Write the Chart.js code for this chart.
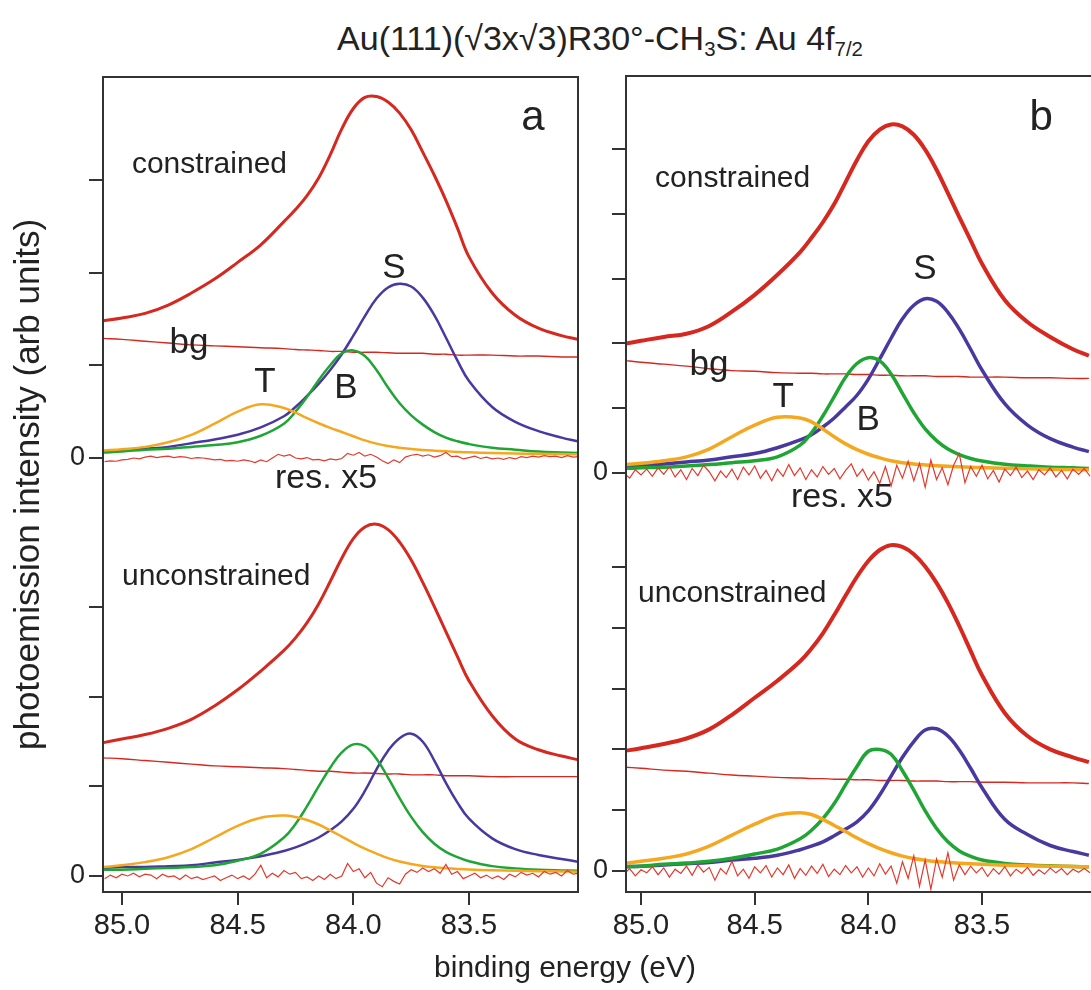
<!DOCTYPE html>
<html>
<head>
<meta charset="utf-8">
<script src="https://cdn.jsdelivr.net/npm/chart.js@4.4.0/dist/chart.umd.min.js"></script>
<style>
html, body { margin: 0; padding: 0; background: #fff; overflow: hidden; }
#wrap { position: relative; width: 1091px; height: 990px; overflow: hidden; }
canvas { position: absolute; top: 0; }
#chartA { left: 0; }
#chartB { left: 590px; }
.lbl { position: absolute; font-family: "Liberation Sans", Arial, sans-serif; color: #222; white-space: nowrap; text-align: center; }
.lbl sub { font-size: 0.6em; vertical-align: -0.3em; line-height: 0; }
#title { left: 0; width: 1200px; top: 21px; font-size: 34px; line-height: 34px; }
#xtitle { left: 0; width: 1130px; top: 952px; font-size: 30px; line-height: 30px; }
</style>
</head>
<body>
<div id="wrap">
  <div id="title" class="lbl">Au(111)(√3x√3)R30°-CH<sub>3</sub>S: Au 4f<sub>7/2</sub></div>
  <canvas id="chartA" width="590" height="990"></canvas>
  <canvas id="chartB" width="520" height="990"></canvas>
  <div id="xtitle" class="lbl">binding energy (eV)</div>
</div>
<script>
// energy grid for the fitted curves (eV)
const energy = [85.08, 85.0, 84.9, 84.8, 84.7, 84.6, 84.5, 84.4, 84.3, 84.25, 84.2, 84.15, 84.1, 84.05, 84.0,
	83.95, 83.9, 83.85, 83.8, 83.75, 83.7, 83.65, 83.6, 83.55, 83.5, 83.4, 83.3, 83.2, 83.1, 83.03];

// energy grid for the residuals (eV)
const resE = [85.075, 85.05, 85.025, 85.0, 84.975, 84.95, 84.925, 84.9, 84.875, 84.85, 84.825, 84.8, 84.775, 84.75,
	84.725, 84.7, 84.675, 84.65, 84.625, 84.6, 84.575, 84.55, 84.525, 84.5, 84.475, 84.45, 84.425, 84.4, 84.375,
	84.35, 84.325, 84.3, 84.275, 84.25, 84.225, 84.2, 84.175, 84.15, 84.125, 84.1, 84.075, 84.05, 84.025, 84.0,
	83.975, 83.95, 83.925, 83.9, 83.875, 83.85, 83.825, 83.8, 83.775, 83.75, 83.725, 83.7, 83.675, 83.65, 83.625,
	83.6, 83.575, 83.55, 83.525, 83.5, 83.475, 83.45, 83.425, 83.4, 83.375, 83.35, 83.325, 83.3, 83.275, 83.25,
	83.225, 83.2, 83.175, 83.15, 83.125, 83.1, 83.075, 83.05, 83.025];

const xTicks = [85.0, 84.5, 84.0, 83.5];

// panel a, constrained fit
const aConTotal = [1.48,1.51,1.56,1.65,1.78,1.93,2.11,2.30,2.55,2.68,2.83,3.02,3.27,3.55,3.77,3.89,3.90,3.84,3.72,3.54,3.30,3.05,2.78,2.48,2.17,1.78,1.54,1.40,1.32,1.28];
const aConBg = [1.29,1.28,1.26,1.24,1.22,1.21,1.20,1.19,1.18,1.17,1.165,1.16,1.15,1.15,1.14,1.14,1.14,1.135,1.13,1.13,1.13,1.12,1.12,1.11,1.11,1.11,1.10,1.10,1.09,1.09];
const aConS = [0.07,0.08,0.10,0.12,0.16,0.20,0.25,0.33,0.45,0.55,0.67,0.80,0.95,1.12,1.32,1.53,1.72,1.84,1.88,1.85,1.73,1.54,1.30,1.05,0.83,0.55,0.39,0.29,0.22,0.18];
const aConB = [0.06,0.07,0.09,0.10,0.12,0.14,0.17,0.24,0.37,0.50,0.66,0.84,1.00,1.13,1.16,1.10,0.95,0.76,0.59,0.46,0.36,0.28,0.22,0.18,0.15,0.11,0.09,0.07,0.06,0.055];
const aConT = [0.08,0.095,0.12,0.17,0.25,0.37,0.50,0.58,0.54,0.49,0.43,0.375,0.325,0.28,0.235,0.19,0.155,0.13,0.11,0.097,0.087,0.079,0.072,0.066,0.061,0.054,0.049,0.045,0.042,0.04];
const aConRes = [-0.04,-0.03,-0.035,-0.02,-0.015,0.0,-0.01,0.01,0.02,0.005,
	0.015,0.02,0.005,0.015,0.01,-0.005,0.005,0.0,-0.01,-0.02,
	-0.015,-0.03,-0.025,-0.035,-0.02,-0.03,-0.05,-0.02,-0.04,0.0,
	0.04,0.02,0.035,0.0,-0.01,0.005,-0.02,-0.015,-0.03,-0.01,
	-0.02,-0.005,0.05,0.03,0.06,0.02,0.04,0.01,-0.03,-0.06,
	-0.02,-0.05,0.01,0.03,0.04,0.02,0.035,0.01,0.025,0.06,
	0.015,0.02,-0.01,0.005,0.02,-0.005,0.01,-0.01,0.0,-0.015,
	0.005,-0.01,0.015,0.005,0.02,0.01,0.025,0.015,0.02,0.005,
	0.025,0.01,0.015];

// panel a, unconstrained fit
const aUncTotal = [1.49,1.53,1.58,1.65,1.75,1.90,2.08,2.29,2.52,2.66,2.83,3.04,3.29,3.55,3.77,3.90,3.93,3.87,3.73,3.53,3.28,3.01,2.73,2.45,2.18,1.79,1.53,1.41,1.34,1.30];
const aUncBg = [1.32,1.31,1.29,1.27,1.25,1.23,1.22,1.21,1.20,1.19,1.18,1.17,1.17,1.16,1.15,1.15,1.145,1.14,1.14,1.13,1.13,1.13,1.12,1.12,1.12,1.11,1.11,1.11,1.11,1.11];
const aUncS = [0.09,0.10,0.10,0.11,0.12,0.15,0.18,0.22,0.28,0.32,0.37,0.43,0.51,0.61,0.75,0.95,1.19,1.40,1.54,1.59,1.50,1.29,1.04,0.82,0.64,0.42,0.30,0.235,0.19,0.16];
const aUncB = [0.07,0.07,0.08,0.09,0.10,0.12,0.17,0.25,0.43,0.58,0.78,1.00,1.21,1.38,1.47,1.45,1.31,1.10,0.87,0.66,0.49,0.36,0.27,0.21,0.165,0.11,0.085,0.07,0.062,0.058];
const aUncT = [0.10,0.12,0.155,0.21,0.30,0.43,0.56,0.65,0.675,0.66,0.625,0.575,0.51,0.44,0.37,0.305,0.25,0.20,0.162,0.133,0.112,0.097,0.086,0.078,0.072,0.064,0.058,0.054,0.05,0.048];
const aUncRes = [-0.03,0.01,-0.02,0.02,0.0,0.03,-0.01,0.02,0.01,-0.03,
	0.02,-0.01,0.0,-0.04,0.01,-0.03,-0.01,-0.04,-0.02,0.0,
	-0.05,-0.02,0.01,-0.03,0.0,-0.04,0.02,0.12,-0.02,0.03,
	-0.01,0.06,0.02,0.04,-0.03,-0.01,-0.05,0.0,-0.04,0.02,
	-0.03,0.0,0.14,0.05,0.08,-0.02,0.04,-0.08,-0.12,-0.02,
	-0.06,-0.09,0.02,0.07,0.04,0.09,0.05,0.08,0.03,0.13,
	0.02,0.05,-0.03,0.0,0.03,-0.02,0.01,-0.03,0.0,-0.04,
	0.02,-0.01,0.04,0.01,0.03,-0.01,0.05,0.02,0.04,0.0,
	0.06,0.02,0.03];

// panel b, constrained fit
const bConTotal = [1.99,2.04,2.10,2.15,2.27,2.49,2.75,3.06,3.41,3.63,3.87,4.15,4.49,4.83,5.12,5.30,5.38,5.35,5.22,4.99,4.68,4.32,3.95,3.59,3.23,2.67,2.33,2.10,1.91,1.81];
const bConBg = [1.74,1.71,1.68,1.65,1.61,1.58,1.57,1.55,1.54,1.54,1.53,1.53,1.53,1.52,1.52,1.51,1.51,1.50,1.50,1.50,1.49,1.49,1.49,1.48,1.48,1.48,1.47,1.47,1.46,1.46];
const bConS = [0.09,0.11,0.14,0.17,0.20,0.25,0.30,0.39,0.51,0.59,0.71,0.85,1.02,1.20,1.45,1.76,2.08,2.38,2.59,2.69,2.65,2.48,2.22,1.91,1.59,1.07,0.74,0.53,0.40,0.33];
const bConB = [0.07,0.08,0.09,0.11,0.13,0.16,0.19,0.25,0.43,0.62,0.88,1.18,1.48,1.69,1.78,1.73,1.53,1.23,0.93,0.68,0.50,0.37,0.285,0.225,0.185,0.135,0.11,0.09,0.08,0.07];
const bConT = [0.13,0.15,0.19,0.25,0.37,0.56,0.74,0.86,0.85,0.79,0.68,0.56,0.45,0.36,0.29,0.235,0.19,0.16,0.14,0.125,0.113,0.103,0.096,0.09,0.084,0.075,0.066,0.059,0.053,0.05];
const bConRes = [0.0,-0.08,0.05,-0.03,0.06,-0.05,0.08,-0.02,0.1,-0.06,
	0.05,-0.1,0.07,-0.04,0.12,0.02,-0.12,0.03,-0.07,0.06,
	-0.1,0.09,-0.03,0.11,-0.08,0.04,-0.12,0.06,-0.05,0.13,
	-0.04,0.08,-0.1,0.05,-0.06,0.1,-0.02,0.07,-0.09,0.04,
	0.14,-0.05,0.06,-0.11,0.02,-0.16,0.1,-0.2,0.12,-0.08,
	0.18,-0.12,0.15,-0.22,0.2,-0.1,0.08,-0.18,0.12,0.3,
	-0.15,0.1,-0.05,0.12,-0.09,0.04,-0.14,0.06,-0.04,0.09,
	-0.07,0.03,-0.1,0.05,-0.03,0.08,-0.06,0.04,-0.09,0.06,
	-0.02,0.07,-0.05];

// panel b, unconstrained fit
const bUncTotal = [1.97,2.02,2.09,2.18,2.33,2.57,2.85,3.13,3.45,3.66,3.91,4.21,4.53,4.84,5.10,5.28,5.36,5.33,5.21,5.01,4.74,4.41,4.03,3.62,3.22,2.60,2.22,2.00,1.87,1.79];
const bUncBg = [1.71,1.69,1.66,1.64,1.61,1.58,1.56,1.54,1.53,1.52,1.52,1.51,1.51,1.50,1.50,1.49,1.49,1.49,1.48,1.48,1.48,1.47,1.47,1.47,1.46,1.46,1.45,1.45,1.45,1.44];
const bUncS = [0.07,0.08,0.10,0.12,0.14,0.18,0.21,0.26,0.35,0.41,0.48,0.58,0.69,0.81,0.99,1.25,1.56,1.87,2.13,2.32,2.34,2.22,1.99,1.69,1.37,0.85,0.60,0.42,0.32,0.26];
const bUncB = [0.07,0.08,0.11,0.13,0.16,0.21,0.28,0.36,0.53,0.67,0.86,1.11,1.42,1.72,1.97,2.00,1.92,1.65,1.33,0.99,0.70,0.48,0.33,0.24,0.18,0.125,0.10,0.085,0.075,0.07];
const bUncT = [0.12,0.16,0.21,0.28,0.41,0.59,0.77,0.92,0.96,0.93,0.85,0.75,0.65,0.545,0.45,0.37,0.30,0.245,0.205,0.178,0.155,0.14,0.128,0.118,0.11,0.097,0.088,0.08,0.074,0.07];
const bUncRes = [-0.05,0.04,-0.08,0.02,-0.03,0.07,-0.06,0.05,-0.1,0.03,
	-0.04,0.08,-0.07,0.1,-0.02,0.06,-0.15,0.04,-0.05,0.16,
	-0.08,0.03,-0.12,0.07,-0.03,0.09,-0.1,0.05,-0.06,0.1,
	-0.12,0.04,-0.07,0.08,-0.04,0.11,-0.09,0.03,-0.06,0.09,
	-0.03,0.07,-0.1,0.05,-0.08,0.12,-0.05,0.08,-0.2,0.15,
	-0.12,0.25,-0.25,0.18,-0.3,0.2,-0.1,0.3,-0.15,0.1,
	-0.06,0.08,-0.03,0.06,-0.09,0.04,-0.05,0.07,-0.08,0.03,
	-0.04,0.06,-0.07,0.02,-0.05,0.05,-0.03,0.04,-0.06,0.03,
	-0.02,0.04,-0.03];

const FONT = '"Liberation Sans", Arial, sans-serif';
const INK = '#222';
const AXIS = '#333';
const RED = '#d6281f';
const RES_RED = '#e23a2e';
const BLUE = '#4838a0';
const GREEN = '#1fa534';
const ORANGE = '#f5a81f';

Chart.defaults.font.family = FONT;
Chart.defaults.color = INK;

function pts(xs, ys, g) {
	return xs.map((x, i) => ({ x: x, y: g.off + ys[i] * g.k }));
}

function line(xs, ys, g, color, width, smooth) {
	return {
		data: pts(xs, ys, g),
		borderColor: color,
		borderWidth: width,
		pointRadius: 0,
		fill: false,
		tension: smooth ? 0.4 : 0
	};
}

// first dataset in the list is drawn on top
function groupSets(g, d, w) {
	return [
		line(resE, d.res, g, RES_RED, 1.2, false),
		line(energy, d.T, g, ORANGE, w.comp, true),
		line(energy, d.B, g, GREEN, w.comp, true),
		line(energy, d.S, g, BLUE, w.comp, true),
		line(energy, d.total, g, RED, w.total, true),
		line(energy, d.bg, g, RED, 1.4, true)
	];
}

const framePlugin = {
	id: 'frame',
	afterDatasetsDraw(chart) {
		const a = chart.chartArea, ctx = chart.ctx;
		ctx.save();
		ctx.strokeStyle = AXIS;
		ctx.lineWidth = 2;
		ctx.strokeRect(a.left, a.top, a.right - a.left, a.bottom - a.top);
		ctx.restore();
	}
};

function textPlugin(items) {
	return {
		id: 'panelText',
		afterDraw(chart) {
			const ctx = chart.ctx, xs = chart.scales.x, ys = chart.scales.y;
			ctx.save();
			ctx.fillStyle = INK;
			ctx.textBaseline = 'alphabetic';
			for (let it of items) {
				ctx.font = it.size + 'px ' + FONT;
				ctx.textAlign = it.align || 'center';
				ctx.fillText(it.text, xs.getPixelForValue(it.x), ys.getPixelForValue(it.y));
			}
			ctx.restore();
		}
	};
}

function makePanel(id, p) {
	let yTicks = [], zeroIdx = [];
	for (let g of [p.lower, p.upper]) {
		zeroIdx.push(yTicks.length);
		for (let k = 0; k < g.n; k++) yTicks.push(g.off + k * g.k);
	}
	const datasets = groupSets(p.upper, p.con, p.w).concat(groupSets(p.lower, p.unc, p.w));
	return new Chart(document.getElementById(id), {
		type: 'line',
		data: { datasets: datasets },
		options: {
			responsive: false,
			animation: false,
			layout: { padding: p.pad },
			plugins: { legend: { display: false }, tooltip: { enabled: false } },
			scales: {
				x: {
					type: 'linear', reverse: true, min: p.xMin, max: p.xMax,
					afterBuildTicks: s => { s.ticks = xTicks.map(v => ({ value: v })); },
					afterFit: s => { s.height = 60; },
					ticks: { callback: v => v.toFixed(1), font: { size: 29 }, color: INK, padding: 4, maxRotation: 0, autoSkip: false },
					grid: { drawOnChartArea: false, tickLength: 13, color: AXIS, lineWidth: 2 },
					border: { color: AXIS, width: 2 }
				},
				y: {
					type: 'linear', min: p.yMin, max: p.yMax,
					afterBuildTicks: s => { s.ticks = yTicks.map(v => ({ value: v })); },
					afterFit: s => { s.width = p.yWidth; },
					ticks: { callback: (v, i) => zeroIdx.includes(i) ? '0' : '', font: { size: 27 }, color: INK, padding: 4, autoSkip: false },
					grid: { drawOnChartArea: false, tickLength: 14, color: AXIS, lineWidth: 2 },
					border: { color: AXIS, width: 2 },
					title: p.yTitle || { display: false }
				}
			}
		},
		plugins: [framePlugin, textPlugin(p.labels)]
	});
}

makePanel('chartA', {
	xMin: 83.029, xMax: 85.082, yMin: -0.179, yMax: 8.927,
	pad: { top: 77, right: 12, bottom: 38, left: 0 },
	yWidth: 103,
	lower: { off: 0, k: 1, n: 4 },
	upper: { off: 4.670, k: 1.0358, n: 4 },
	w: { total: 3, comp: 2.5 },
	con: { total: aConTotal, bg: aConBg, S: aConS, B: aConB, T: aConT, res: aConRes },
	unc: { total: aUncTotal, bg: aUncBg, S: aUncS, B: aUncB, T: aUncT, res: aUncRes },
	yTitle: { display: true, text: 'photoemission intensity (arb units)', font: { size: 35 }, color: INK, padding: { top: 8, bottom: 0 } },
	labels: [
		{ text: 'a', x: 83.224, y: 8.335, size: 42 },
		{ text: 'constrained', x: 84.957, y: 7.849, size: 30, align: 'left' },
		{ text: 'S', x: 83.825, y: 6.682, size: 35 },
		{ text: 'bg', x: 84.710, y: 5.844, size: 35 },
		{ text: 'T', x: 84.382, y: 5.408, size: 35 },
		{ text: 'B', x: 84.032, y: 5.341, size: 35 },
		{ text: 'res. x5', x: 84.118, y: 4.335, size: 34 },
		{ text: 'unconstrained', x: 85.0, y: 3.251, size: 30, align: 'left' }
	]
});

makePanel('chartB', {
	xMin: 82.981, xMax: 85.066, yMin: -0.345, yMax: 13.076,
	pad: { top: 76, right: 10, bottom: 38, left: 0 },
	yWidth: 36,
	lower: { off: 0, k: 1, n: 6 },
	upper: { off: 6.546, k: 1.0658, n: 6 },
	w: { total: 4, comp: 3.5 },
	con: { total: bConTotal, bg: bConBg, S: bConS, B: bConB, T: bConT, res: bConRes },
	unc: { total: bUncTotal, bg: bUncBg, S: bUncS, B: bUncB, T: bUncT, res: bUncRes },
	labels: [
		{ text: 'b', x: 83.240, y: 12.188, size: 42 },
		{ text: 'constrained', x: 84.938, y: 11.25, size: 30, align: 'left' },
		{ text: 'S', x: 83.751, y: 9.737, size: 35 },
		{ text: 'bg', x: 84.701, y: 8.158, size: 35 },
		{ text: 'T', x: 84.375, y: 7.632, size: 35 },
		{ text: 'B', x: 84.001, y: 7.253, size: 35 },
		{ text: 'res. x5', x: 84.116, y: 5.987, size: 34 },
		{ text: 'unconstrained', x: 85.013, y: 4.424, size: 30, align: 'left' }
	]
});
</script>
</body>
</html>
